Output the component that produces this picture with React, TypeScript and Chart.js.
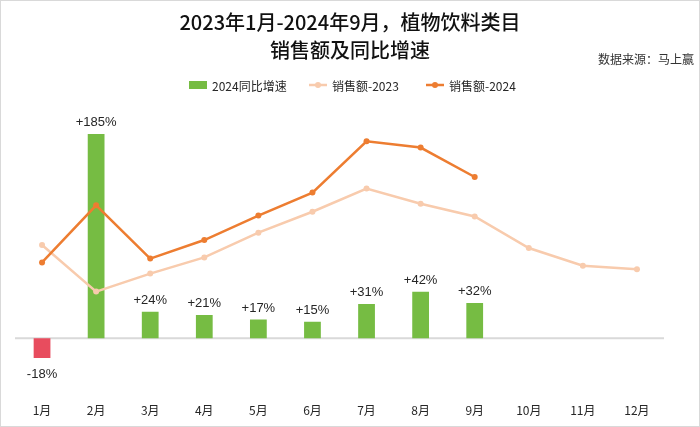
import { useEffect, useRef } from 'react';
import { Chart, registerables } from 'chart.js';

Chart.register(...registerables);

const months = ['1月', '2月', '3月', '4月', '5月', '6月', '7月', '8月', '9月', '10月', '11月', '12月'];
// 2024 同比增速 (%)
const growth2024 = [-18, 185, 24, 21, 17, 15, 31, 42, 32];
// 销售额 (相对值)
const sales2023 = [51.1, 35.3, 41.4, 46.9, 55.3, 62.4, 70.3, 65.1, 60.8, 50.1, 44.1, 42.9];
const sales2024 = [45.2, 64.6, 46.5, 52.8, 61.1, 68.9, 86.3, 84.2, 74.2];

const titleLines = ['2023年1月-2024年9月，植物饮料类目', '销售额及同比增速'];
const sourceText = '数据来源：马上赢';

const GREEN = '#76BC43';
const RED = '#E84C5E';
const ORANGE = '#ED7D31';
const PEACH = '#F8CBAD';
const FONT = '"Noto Sans CJK SC", "Noto Sans", sans-serif';

const decorPlugin = {
  id: 'decor',
  beforeDatasetsDraw(chart: any) {
    const { ctx, chartArea, scales } = chart;
    const y0 = scales.y.getPixelForValue(0);
    ctx.save();
    ctx.strokeStyle = '#d9d9d9';
    ctx.lineWidth = 2;
    ctx.beginPath();
    ctx.moveTo(chartArea.left, y0);
    ctx.lineTo(chartArea.right, y0);
    ctx.stroke();
    ctx.restore();
  },
  afterDatasetsDraw(chart: any) {
    const { ctx } = chart;
    const meta = chart.getDatasetMeta(0);
    ctx.save();
    ctx.font = '13px "Liberation Sans", Arial, sans-serif';
    ctx.fillStyle = '#262626';
    ctx.textAlign = 'center';
    meta.data.forEach((bar: any, i: number) => {
      const v = growth2024[i];
      const txt = (v > 0 ? '+' : '') + v + '%';
      if (v >= 0) {
        ctx.textBaseline = 'bottom';
        ctx.fillText(txt, bar.x, bar.y - 5);
      } else {
        ctx.textBaseline = 'top';
        ctx.fillText(txt, bar.x, bar.y + 10);
      }
    });
    ctx.restore();
  },
  afterDraw(chart: any) {
    const { ctx } = chart;
    ctx.save();
    ctx.fillStyle = '#111';
    ctx.textAlign = 'center';
    ctx.textBaseline = 'middle';
    ctx.font = '500 20px ' + FONT;
    ctx.fillText(titleLines[0], 349, 21);
    ctx.fillText(titleLines[1], 349, 49);
    ctx.font = '12px ' + FONT;
    ctx.textAlign = 'right';
    ctx.fillStyle = '#333';
    ctx.fillText(sourceText, 693, 58);

    // legend
    const items = chart.data.datasets;
    const xs = [188, 308, 425];
    const ly = 84;
    ctx.font = '12px ' + FONT;
    ctx.textAlign = 'left';
    items.forEach((ds: any, i: number) => {
      const x = xs[i];
      if (ds.type === 'bar') {
        ctx.fillStyle = GREEN;
        ctx.fillRect(x, ly - 4, 18, 8);
      } else {
        ctx.strokeStyle = ds.borderColor;
        ctx.lineWidth = 2.5;
        ctx.beginPath();
        ctx.moveTo(x, ly);
        ctx.lineTo(x + 18, ly);
        ctx.stroke();
        ctx.fillStyle = ds.borderColor;
        ctx.beginPath();
        ctx.arc(x + 9, ly, 3, 0, Math.PI * 2);
        ctx.fill();
      }
      ctx.fillStyle = '#262626';
      ctx.fillText(ds.label, x + 23, ly + 1);
    });
    ctx.restore();
  },
};

export default function App() {
  const canvasRef = useRef<HTMLCanvasElement>(null);

  useEffect(() => {
    document.body.style.margin = '0';
    if (!canvasRef.current) return;
    const chart = new Chart(canvasRef.current, {
      type: 'bar',
      data: {
        labels: months,
        datasets: [
          {
            type: 'bar',
            label: '2024同比增速',
            data: growth2024,
            backgroundColor: growth2024.map((v) => (v < 0 ? RED : GREEN)),
            barPercentage: 0.31,
            categoryPercentage: 1,
            yAxisID: 'y',
            order: 3,
          },
          {
            type: 'line',
            label: '销售额-2023',
            data: sales2023,
            borderColor: PEACH,
            backgroundColor: PEACH,
            borderWidth: 2.5,
            pointRadius: 3,
            pointBackgroundColor: PEACH,
            pointBorderWidth: 0,
            yAxisID: 'y1',
            order: 2,
          },
          {
            type: 'line',
            label: '销售额-2024',
            data: sales2024,
            borderColor: ORANGE,
            backgroundColor: ORANGE,
            borderWidth: 2.5,
            pointRadius: 3,
            pointBackgroundColor: ORANGE,
            pointBorderWidth: 0,
            yAxisID: 'y1',
            order: 1,
          },
        ] as any,
      },
      options: {
        animation: false,
        responsive: false,
        layout: { padding: { top: 100, left: 14, right: 35, bottom: 0 } },
        plugins: {
          legend: { display: false },
          title: { display: false },
          tooltip: { enabled: false },
        },
        scales: {
          x: {
            grid: { display: false },
            border: { display: false },
            ticks: {
              color: '#262626',
              font: { family: FONT, size: 12 },
              padding: 8,
            },
          },
          y: { display: false, min: -44.8, max: 215 },
          y1: { display: false, min: 2.7, max: 100 },
        },
      },
      plugins: [decorPlugin],
    });
    return () => chart.destroy();
  }, []);

  return (
    <div style={{ position: 'relative', width: 700, height: 427, boxSizing: 'border-box', border: '1px solid #d9d9d9', background: '#fff' }}>
      <canvas ref={canvasRef} width={698} height={425} style={{ position: 'absolute', left: 0, top: 0 }} />
    </div>
  );
}
